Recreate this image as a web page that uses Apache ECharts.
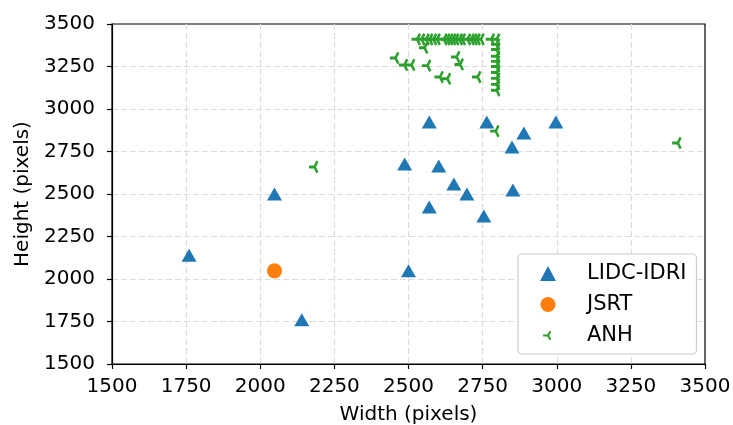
<!DOCTYPE html>
<html>
<head>
<meta charset="utf-8">
<script src="https://cdn.jsdelivr.net/npm/echarts@6/dist/echarts.min.js"></script>
<style>
  html, body { margin: 0; padding: 0; background: #fff; }
  #chart { width: 733px; height: 425px; }
</style>
</head>
<body>
<div id="chart"></div>
<script>
// axis ticks
const xTicks = [1500, 1750, 2000, 2250, 2500, 2750, 3000, 3250, 3500];
const yTicks = [1500, 1750, 2000, 2250, 2500, 2750, 3000, 3250, 3500];

// image sizes [width, height] per dataset
const lidc = [
  [1760, 2140], [2048, 2500], [2140, 1760], [2500, 2048],
  [2487, 2676], [2570, 2924], [2602, 2665], [2653, 2559],
  [2697, 2500], [2570, 2424], [2754, 2371], [2764, 2924],
  [2849, 2776], [2889, 2859], [2852, 2524], [2997, 2924]
];
const jsrt = [[2048, 2048]];
const anh = [
  // top row
  [2530, 3410], [2545, 3410], [2560, 3410], [2572, 3410], [2585, 3410],
  [2597, 3410], [2620, 3410], [2630, 3410], [2640, 3410], [2650, 3410],
  [2660, 3410], [2672, 3410], [2682, 3410], [2700, 3410], [2712, 3410],
  [2722, 3410], [2732, 3410], [2745, 3410], [2780, 3410], [2798, 3410],
  // right column
  [2798, 3380], [2798, 3350], [2798, 3310], [2798, 3280], [2798, 3250],
  [2798, 3215], [2798, 3180], [2798, 3145], [2798, 3110],
  // scattered
  [2457, 3300], [2487, 3259], [2511, 3259], [2565, 3255], [2555, 3360],
  [2607, 3188], [2632, 3178], [2663, 3306], [2675, 3262], [2734, 3188],
  [2795, 2870], [2184, 2659], [3409, 2800]
];

// tri_left marker: three arms from the centre
const triLeft = 'path://M-100,-22L0,-22L0,22L-100,22Z' +
  'M-19,-11L31,-97.6L69,-75.6L19,11Z' +
  'M19,-11L69,75.6L31,97.6L-19,11Z';
// same marker with empty margin so the legend draws it small
const triLeftLegend = triLeft + 'M-150,-155L-150,-155ZM150,155L150,155Z';

const font = 'DejaVu Sans';
const chart = echarts.init(document.getElementById('chart'));

function axis(name, ticks, gap, margin) {
  return {
    type: 'value',
    name: name,
    nameLocation: 'middle',
    nameGap: gap,
    nameTextStyle: { fontFamily: font, fontSize: 20, color: '#000' },
    min: ticks[0],
    max: ticks[ticks.length - 1],
    interval: ticks[1] - ticks[0],
    axisLine: { show: true, onZero: false, lineStyle: { color: '#000', width: 1.2 } },
    axisTick: { show: true, length: 5, lineStyle: { color: '#000', width: 1.2 } },
    axisLabel: {
      fontFamily: font, fontSize: 20, color: '#000', margin: margin,
      formatter: v => String(v)
    },
    splitLine: {
      show: true, showMinLine: false, showMaxLine: false,
      lineStyle: { color: '#dcdcdc', type: [6, 3], width: 1.2 }
    }
  };
}

chart.setOption({
  animation: false,
  grid: {
    left: 112, right: 28, top: 24, bottom: 61,
    outerBoundsMode: 'none',
    show: true, borderColor: '#000', borderWidth: 1.2
  },
  xAxis: axis('Width (pixels)', xTicks, 41, 13),
  yAxis: axis('Height (pixels)', yTicks, 76, 17),
  legend: {
    orient: 'vertical',
    left: 518, top: 254,
    padding: [9, 10, 8, 22],
    itemWidth: 16, itemHeight: 15, itemGap: 10,
    backgroundColor: '#fff',
    borderColor: '#cccccc', borderWidth: 1.2, borderRadius: 4,
    textStyle: { fontFamily: font, fontSize: 21, color: '#000', padding: [0, 0, 0, 26] },
    data: [
      { name: 'LIDC-IDRI', icon: 'triangle', itemStyle: { color: '#1f77b4' } },
      { name: 'JSRT', icon: 'circle', itemStyle: { color: '#ff7f0e' } },
      { name: 'ANH', icon: triLeftLegend, itemStyle: { color: '#2ca02c' } }
    ]
  },
  series: [
    {
      name: 'LIDC-IDRI', type: 'scatter', data: lidc,
      symbol: 'triangle', symbolSize: [15, 13],
      itemStyle: { color: '#1f77b4', opacity: 1 }
    },
    {
      name: 'JSRT', type: 'scatter', data: jsrt,
      symbol: 'circle', symbolSize: 15,
      itemStyle: { color: '#ff7f0e', opacity: 1 }
    },
    {
      name: 'ANH', type: 'scatter', data: anh,
      symbol: triLeft, symbolKeepAspect: true, symbolSize: [11, 12.7],
      symbolOffset: [-1.1, 0],
      itemStyle: { color: '#2ca02c', opacity: 1 }
    }
  ]
});
</script>
</body>
</html>
